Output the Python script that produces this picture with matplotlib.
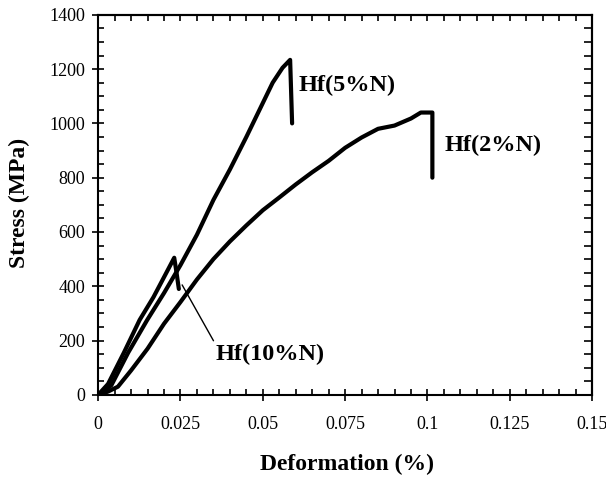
import matplotlib
matplotlib.use("Agg")
import matplotlib.pyplot as plt
from matplotlib.ticker import MultipleLocator, FuncFormatter

plt.rcParams['font.family'] = ['Liberation Serif', 'DejaVu Serif']

# data
x_2n = [0, 0.003, 0.006, 0.010, 0.015, 0.020, 0.025, 0.030, 0.035, 0.040, 0.045,
        0.050, 0.055, 0.060, 0.065, 0.070, 0.075, 0.080, 0.085, 0.090, 0.095,
        0.098, 0.1015, 0.1015]
y_2n = [0, 12, 30, 90, 170, 262, 342, 425, 500, 565, 624,
        680, 727, 775, 820, 862, 910, 948, 980, 992, 1018,
        1040, 1040, 800]

x_5n = [0, 0.004, 0.0091, 0.0149, 0.020, 0.025, 0.030, 0.035, 0.040,
        0.045, 0.050, 0.053, 0.056, 0.0583, 0.0589]
y_5n = [0, 35, 155, 276, 375, 478, 590, 718, 830,
        950, 1075, 1150, 1205, 1234, 1000]

x_10n = [0, 0.003, 0.0078, 0.0126, 0.0168, 0.0205, 0.0231, 0.0238, 0.0245]
y_10n = [0, 40, 155, 276, 360, 445, 505, 450, 390]

labels = ["Hf(2%N)", "Hf(5%N)", "Hf(10%N)"]

fig = plt.figure(figsize=(6.06, 4.78), dpi=100)
ax = fig.add_axes([0.162, 0.174, 0.815, 0.795])

for xs, ys in [(x_2n, y_2n), (x_5n, y_5n), (x_10n, y_10n)]:
    ax.plot(xs, ys, color='black', linewidth=3.0, solid_joinstyle='round',
            solid_capstyle='round')

ax.set_xlim(0, 0.15)
ax.set_ylim(0, 1400)

ax.xaxis.set_major_locator(MultipleLocator(0.025))
ax.xaxis.set_minor_locator(MultipleLocator(0.005))
ax.yaxis.set_major_locator(MultipleLocator(200))
ax.yaxis.set_minor_locator(MultipleLocator(50))
ax.xaxis.set_major_formatter(FuncFormatter(lambda v, p: "%g" % round(v, 4)))

ax.tick_params(which='major', direction='inout', length=9, width=1.2,
               labelsize=13)
ax.tick_params(axis='x', which='major', pad=11)
ax.tick_params(axis='y', which='major', pad=5)
ax.tick_params(which='minor', direction='in', length=4, width=1.2)

# top / right ticks pointing inwards
top = ax.secondary_xaxis('top')
top.xaxis.set_major_locator(MultipleLocator(0.005))
top.tick_params(direction='in', length=4, width=1.2, labeltop=False)
right = ax.secondary_yaxis('right')
right.yaxis.set_major_locator(MultipleLocator(50))
right.tick_params(direction='in', length=6, width=1.2, labelright=False)

for s in ax.spines.values():
    s.set_linewidth(1.5)
top.spines['top'].set_linewidth(1.5)
right.spines['right'].set_linewidth(1.5)

ax.set_xlabel("Deformation (%)", fontsize=17, fontweight='bold', va='center')
ax.set_ylabel("Stress (MPa)", fontsize=17, fontweight='bold', va='center')
ax.xaxis.set_label_coords(0.504, -0.184)
ax.yaxis.set_label_coords(-0.16, 0.505)

ax.text(0.1052, 920, labels[0], fontsize=17.5, fontweight='bold', va='center')
ax.text(0.0607, 1140, labels[1], fontsize=17.5, fontweight='bold', va='center')
ax.annotate(labels[2], xy=(0.0255, 405), xytext=(0.0355, 150),
            fontsize=17.5, fontweight='bold', va='center',
            arrowprops=dict(arrowstyle='-', color='black', linewidth=1.0,
                            shrinkA=0, shrinkB=0,
                            relpos=(0.0, 1.0)))

fig.savefig("out.png", dpi=100)
